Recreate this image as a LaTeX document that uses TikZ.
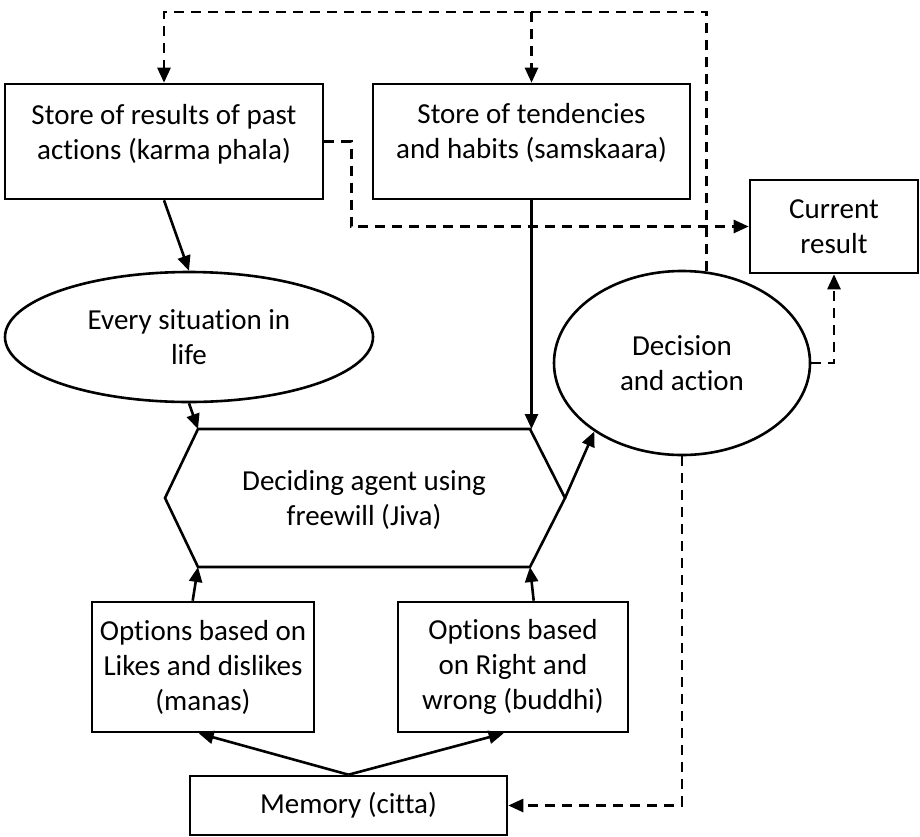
\documentclass[tikz,border=0pt]{standalone}
\usepackage{fontspec}
\setmainfont{Carlito}[Ligatures=NoCommon]
\usetikzlibrary{arrows.meta,shapes.geometric,calc}
\begin{document}
\begin{tikzpicture}[x=1pt,y=-1pt,
  box/.style={draw, line width=2.6pt, inner sep=0pt, align=center},
  oval/.style={draw, ellipse, line width=2.6pt, inner sep=0pt, align=center},
  conn/.style={line width=2.6pt, -{Triangle[length=15pt,width=13pt]}},
  dconn/.style={conn, dash pattern=on 10pt off 7pt},
  txt/.style={align=center, inner sep=0pt},
  font=\fontsize{29}{35}\selectfont]
\useasboundingbox (0,0) rectangle (920,836);

% boxes
\node[box, minimum width=318pt, minimum height=115pt,
  label={[txt,yshift=7pt]center:Store of results of past\\actions (karma phala)}] (karma) at (164,141.5) {};
\node[box, minimum width=317pt, minimum height=115pt,
  label={[txt,yshift=9pt]center:Store of tendencies\\and habits (samskaara)}] (tend) at (531.5,141.5) {};
\node[box, minimum width=168pt, minimum height=93pt] (cur) at (834,226.5) {Current\\result};
\node[oval, minimum width=368pt, minimum height=130pt] (every) at (189,337) {Every situation in\\life};
\node[oval, minimum width=256pt, minimum height=184pt] (dec) at (682,363) {Decision\\and action};

% hexagon
\coordinate (htl) at (198,429);
\coordinate (htr) at (530,429);
\coordinate (hr) at (565,498);
\coordinate (hbr) at (530,567);
\coordinate (hbl) at (198,567);
\coordinate (hl) at (165,498);
\draw[line width=2.6pt, line join=miter] (htl) -- (htr) -- (hr) -- (hbr) -- (hbl) -- (hl) -- cycle;
\node[txt] (hex) at (364,499.5) {Deciding agent using\\freewill (Jiva)};

\node[box, minimum width=222pt, minimum height=130pt] (manas) at (203,667) {Options based on\\Likes and dislikes\\(manas)};
\node[box, minimum width=230pt, minimum height=130pt] (buddhi) at (513,667) {Options based\\on Right and\\wrong (buddhi)};
\node[box, minimum width=317pt, minimum height=59pt] (mem) at (348.5,805.5) {Memory (citta)};

% solid connectors
\draw[conn] (karma.south) -- (every.north);
\draw[conn] (every.south) -- (htl);
\draw[conn] (tend.south) -- (tend.south |- htr);
\draw[conn] (hr) -- (dec.218);
\draw[conn] ($(manas.north west)+(102,0)$) -- (hbl);
\draw[conn] ($(buddhi.north west)+(137,0)$) -- (hbr);
\draw[conn] (mem.north) -- ($(manas.south west)+(108,0)$);
\draw[conn] (mem.north) -- ($(buddhi.south west)+(107,0)$);

% dashed connectors
\coordinate (topr) at (706,12);
\coordinate (topl) at (164,12);
\draw[dconn] (dec.75) -- (dec.75 |- topr) -- (topl) -- (karma.north);
\draw[dconn] (tend.north |- topl) -- (tend.north);
\draw[dconn] (karma.east) -- ++(27,0) |- (cur.west);
\draw[dconn] (dec.east) -| (cur.south);
\draw[dconn] (dec.south) |- (mem.east);
\end{tikzpicture}
\end{document}
